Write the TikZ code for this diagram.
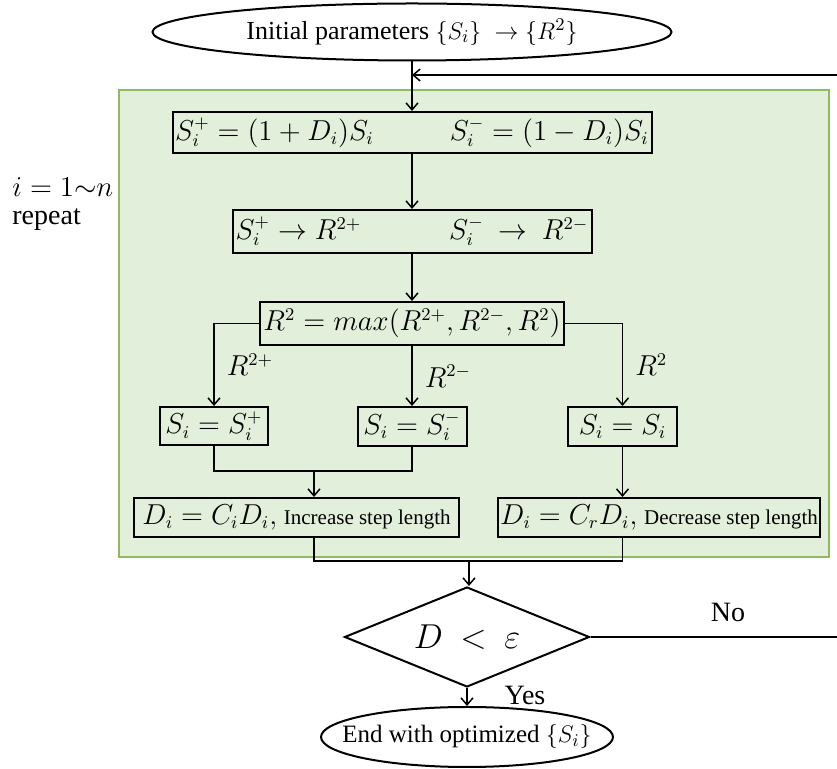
\documentclass[tikz,border=0pt]{standalone}
\usepackage{amsmath,amssymb}
\usepackage{fontspec}
\setmainfont{Liberation Serif}
\usetikzlibrary{arrows.meta,positioning,calc,shapes.geometric}
\definecolor{loopfill}{RGB}{226,239,218}
\definecolor{loopline}{RGB}{141,187,99}
\newcommand{\mathsz}{\fontsize{13.5}{16}\selectfont}
\newcommand{\notesz}{\fontsize{10.5}{12}\selectfont}

\begin{document}
\begin{tikzpicture}[x=0.5pt,y=-0.5pt,
  block/.style={rectangle,draw,line width=1pt,inner sep=0pt,font=\mathsz},
  term/.style={ellipse,draw,line width=1pt,fill=white,inner sep=0pt},
  decision/.style={diamond,aspect=2.45,draw,line width=1pt,fill=white,inner sep=0pt,
                   font=\fontsize{16}{18}\selectfont},
  arr/.style={-{Straight Barb[length=3.5pt,width=6pt]},line width=0.75pt},
  lbl/.style={font=\mathsz,inner sep=0pt},
  word/.style={font=\fontsize{14}{16}\selectfont,inner sep=0pt}]
\useasboundingbox (0,0) rectangle (837,769);

% green region of the inner loop
\node[draw=loopline,fill=loopfill,line width=0.8pt,minimum width=355pt,minimum height=233.5pt] (loop) at (474,323.5) {};
\node[word,anchor=west] (iter) at (12,187) {$i = 1{\sim}n$};
\node[word,anchor=west] (rep) at (12,220) {repeat};

\node[term,minimum width=259.5pt,minimum height=28.5pt,font=\fontsize{13}{15}\selectfont] (start) at (412,32)
  {Initial parameters $\{S_i\}\ \rightarrow \{R^2\}$};

\node[block,minimum width=239.5pt,minimum height=20.5pt] (trial) at (412,132.5)
  {$S_i^+ = (1+D_i)S_i$\hspace{38pt}$S_i^- = (1-D_i)S_i$};
\node[block,minimum width=179.5pt,minimum height=21.5pt] (eval) at (412,231.5)
  {$S_i^+ \rightarrow R^{2+}$\hspace{44pt}$S_i^-\ \rightarrow\ R^{2-}$};
\node[block,minimum width=152pt,minimum height=21.5pt] (best) at (412,323.5)
  {$R^2 = max(R^{2+},R^{2-},R^2)$};

\node[block,minimum width=54pt,minimum height=19pt] (plus) at (214,426) {$S_i = S_i^+$};
\node[block,minimum width=54.5pt,minimum height=19.5pt] (minus) at (412,426.5) {$S_i = S_i^-$};
\node[block,minimum width=54.5pt,minimum height=19.5pt] (same) at (622.5,426.5) {$S_i = S_i$};

\node[block,minimum width=162.5pt,minimum height=19.5pt] (grow) at (296.5,517.5)
  {$D_i = C_iD_i,$ {\notesz Increase step length}};
\node[block,minimum width=161pt,minimum height=19.5pt] (shrink) at (659,517.5)
  {$D_i = C_rD_i,$ {\notesz Decrease step length}};

\node[decision,minimum width=122.5pt,minimum height=50pt] (dec) at (467,637) {$D\ <\ \varepsilon$};
\node[term,inner xsep=-13.5pt,minimum width=146pt,minimum height=30pt,font=\fontsize{12.5}{14}\selectfont] (finish) at (467,737)
  {End with optimized $\{S_i\}$};

\coordinate (join) at (412,75);
\coordinate (back) at (845,637);
\coordinate (m1) at (314,471);
\coordinate (m2) at (469,561);

% main chain
\draw[arr] (start) -- (trial);
\draw[arr] (trial) -- (eval);
\draw[arr] (eval) -- (best);
\draw[arr] (best.west) -| node[lbl,pos=0.75,right=6pt] {$R^{2+}$} (plus);
\draw[arr] (best) -- node[lbl,midway,right=6pt] {$R^{2-}$} (minus);
\draw[arr] (best.east) -| node[lbl,pos=0.75,right=6pt] {$R^2$} (same);
\draw[line width=0.75pt] (plus.south) |- (m1) -| (minus.south);
\draw[arr] (m1) -- (m1 |- grow.north);
\draw[arr] (same.south) -- (same.south |- shrink.north);
\draw[line width=0.75pt] (m1 |- grow.south) |- (m2) -| (same.south |- shrink.south);
\draw[arr] (m2) -- (m2 |- dec.north);
\draw[arr] (dec) -- (finish);
\node[word] (yes) at (525,695) {Yes};

% back to the top when not converged
\draw[arr] (dec.east) -- (back) |- (join);
\node[word] (no) at (728,612) {No};
\end{tikzpicture}
\end{document}
